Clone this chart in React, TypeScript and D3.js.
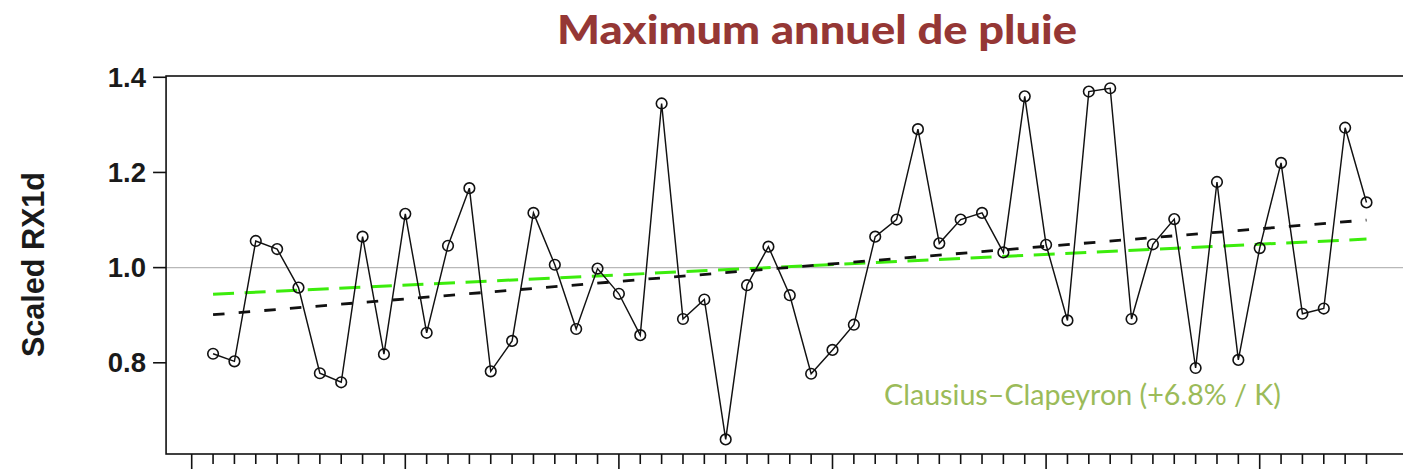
import React, { useEffect, useRef } from "react";
import * as d3 from "d3";

// ---- data ----
const years: number[] = d3.range(1951, 2006);
const rx1d: number[] = [
  0.819, 0.803, 1.056, 1.039, 0.958, 0.778, 0.759, 1.065, 0.818, 1.113,
  0.863, 1.046, 1.167, 0.782, 0.846, 1.115, 1.006, 0.871, 0.998, 0.945,
  0.858, 1.345, 0.892, 0.933, 0.639, 0.963, 1.044, 0.942, 0.777, 0.827,
  0.880, 1.065, 1.101, 1.291, 1.051, 1.101, 1.115, 1.032, 1.360, 1.048,
  0.889, 1.370, 1.377, 0.892, 1.049, 1.102, 0.789, 1.180, 0.806, 1.041,
  1.220, 0.903, 0.914, 1.294, 1.137,
];
const trendYears: number[] = [1951, 2005];
const trendValues: number[] = [0.901, 1.1];
const ccValues: number[] = [0.944, 1.06];
const yTicks: number[] = [0.8, 1.0, 1.2, 1.4];
const yTickLabels: string[] = ["0.8", "1.0", "1.2", "1.4"];
const xTickYears: number[] = d3.range(1950, 2006);

const title = "Maximum annuel de pluie";
const yLabel = "Scaled RX1d";
const ccLabel = "Clausius\u2013Clapeyron (+6.8% / K)";

const W = 1403;
const H = 469;

export default function App() {
  const ref = useRef<SVGSVGElement | null>(null);

  useEffect(() => {
    const svg = d3.select(ref.current);
    svg.selectAll("*").remove();

    const x = d3.scaleLinear().domain([1950, 2005]).range([191.7, 1366.5]);
    const y = d3.scaleLinear().domain([0.6083, 1.4027]).range([454, 76]);

    const left = x(1948.8);
    const right = W + 20;
    const top = y(1.4027);
    const bottom = y(0.6083);

    // reference line at 1.0
    svg
      .append("line")
      .attr("x1", left)
      .attr("x2", right)
      .attr("y1", y(1.0))
      .attr("y2", y(1.0))
      .attr("stroke", "#b8b8b8")
      .attr("stroke-width", 1.2);

    // frame
    svg
      .append("rect")
      .attr("x", left)
      .attr("y", top)
      .attr("width", right - left)
      .attr("height", bottom - top)
      .attr("fill", "none")
      .attr("stroke", "#111")
      .attr("stroke-width", 1.6);

    // y ticks
    const yt = svg.append("g");
    yt.selectAll("line")
      .data(yTicks)
      .join("line")
      .attr("x1", left - 13)
      .attr("x2", left)
      .attr("y1", (d) => y(d))
      .attr("y2", (d) => y(d))
      .attr("stroke", "#111")
      .attr("stroke-width", 1.6);
    yt.selectAll("text")
      .data(yTicks)
      .join("text")
      .attr("x", left - 20)
      .attr("y", (d) => y(d) + 9.6)
      .attr("text-anchor", "end")
      .attr("font-family", "'Liberation Sans', Arial, sans-serif")
      .attr("font-weight", "bold")
      .attr("font-size", 27.5)
      .attr("fill", "#1a1a1a")
      .text((d, i) => yTickLabels[i]);

    // x ticks
    svg
      .append("g")
      .selectAll("line")
      .data(xTickYears)
      .join("line")
      .attr("x1", (d) => x(d))
      .attr("x2", (d) => x(d))
      .attr("y1", bottom)
      .attr("y2", (d) => (d % 10 === 0 ? bottom + 22 : bottom + 10))
      .attr("stroke", "#111")
      .attr("stroke-width", 1.6);

    // y label
    svg
      .append("text")
      .attr("transform", `translate(44,${264.5}) rotate(-90)`)
      .attr("text-anchor", "middle")
      .attr("font-family", "'Liberation Sans', Arial, sans-serif")
      .attr("font-weight", "bold")
      .attr("font-size", 32)
      .attr("textLength", 185)
      .attr("lengthAdjust", "spacingAndGlyphs")
      .attr("fill", "#1a1a1a")
      .text(yLabel);

    // title
    svg
      .append("text")
      .attr("x", 557)
      .attr("y", 43.5)
      .attr("font-family", "Lato, 'Open Sans', sans-serif")
      .attr("font-weight", 900)
      .attr("font-size", 40)
      .attr("textLength", 520)
      .attr("lengthAdjust", "spacingAndGlyphs")
      .attr("fill", "#953735")
      .text(title);

    // Clausius-Clapeyron line
    const line = d3
      .line<number>()
      .x((d, i) => x(trendYears[i]))
      .y((d) => y(d));
    svg
      .append("path")
      .attr("d", line(ccValues) as string)
      .attr("fill", "none")
      .attr("stroke", "#3cec0c")
      .attr("stroke-width", 3)
      .attr("stroke-dasharray", "21 10.6");

    // observed trend
    svg
      .append("path")
      .attr("d", line(trendValues) as string)
      .attr("fill", "none")
      .attr("stroke", "#111")
      .attr("stroke-width", 2.8)
      .attr("stroke-dasharray", "11.5 14.2");

    // data line
    const dl = d3
      .line<number>()
      .x((d, i) => x(years[i]))
      .y((d) => y(d));
    svg
      .append("path")
      .attr("d", dl(rx1d) as string)
      .attr("fill", "none")
      .attr("stroke", "#111")
      .attr("stroke-width", 1.45);

    svg
      .append("g")
      .selectAll("circle")
      .data(rx1d)
      .join("circle")
      .attr("cx", (d, i) => x(years[i]))
      .attr("cy", (d) => y(d))
      .attr("r", 5.3)
      .attr("fill", "none")
      .attr("stroke", "#111")
      .attr("stroke-width", 1.6);

    // CC label
    svg
      .append("text")
      .attr("x", 884)
      .attr("y", 405)
      .attr("font-family", "Lato, 'Open Sans', sans-serif")
      .attr("font-size", 28)
      .attr("textLength", 397)
      .attr("lengthAdjust", "spacingAndGlyphs")
      .attr("fill", "#9bbb59")
      .text(ccLabel);
  }, []);

  return (
    <svg
      ref={ref}
      width={W}
      height={H}
      style={{ position: "absolute", left: 0, top: 0, background: "#fff" }}
    />
  );
}
